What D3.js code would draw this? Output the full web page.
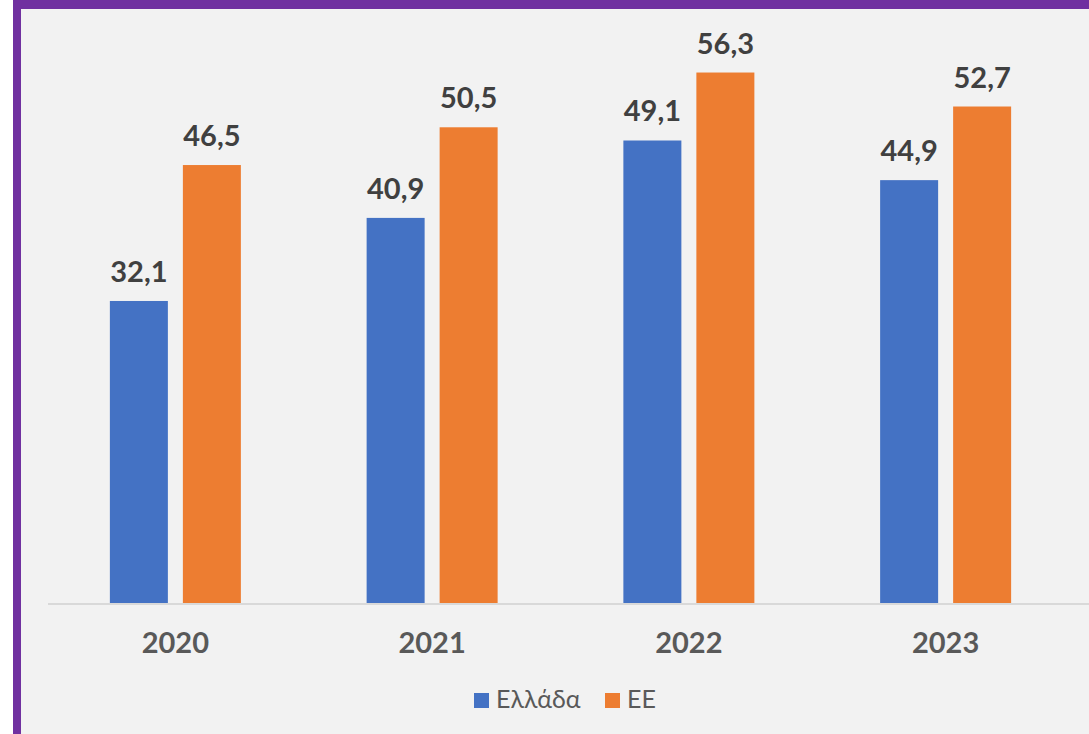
<!DOCTYPE html>
<html>
<head>
<meta charset="utf-8">
<script src="https://cdn.jsdelivr.net/npm/d3@7"></script>
<style>
  body { margin: 0; background: #fff; }
  svg { display: block; }
</style>
</head>
<body>
<div class="chart"></div>
<script>
// chart data
var years = ["2020", "2021", "2022", "2023"];
var seriesNames = ["Ελλάδα", "ΕΕ"];
var greece = [32.1, 40.9, 49.1, 44.9];
var eu = [46.5, 50.5, 56.3, 52.7];
var colors = ["#4472c4", "#ed7d31"];

var svgWidth = 1089;
var svgHeight = 734;

var svg = d3.select(".chart")
  .append("svg")
  .attr("width", svgWidth)
  .attr("height", svgHeight);

// frame: grey panel with purple border on top and left
svg.append("rect")
  .attr("x", 13).attr("y", 0)
  .attr("width", svgWidth - 13).attr("height", svgHeight)
  .attr("fill", "#7030a0");
svg.append("rect")
  .attr("x", 21).attr("y", 9)
  .attr("width", svgWidth - 21).attr("height", svgHeight - 9)
  .attr("fill", "#f2f2f2");

var plotLeft = 47, plotRight = 1074, baseY = 604;

var x0 = d3.scaleBand()
  .domain(years)
  .range([plotLeft, plotRight]);

// two bars of 58px with a 15px gap, centred in each band
var x1 = d3.scaleBand()
  .domain(seriesNames)
  .range([x0.bandwidth() / 2 - 65.5, x0.bandwidth() / 2 + 65.5])
  .paddingInner(15 / 73)
  .paddingOuter(0);

var y = d3.scaleLinear()
  .domain([0, 60])
  .range([baseY, baseY - 60 * 9.44]);

var rows = years.map(function(yr, i) {
  return { year: yr, values: [
    { name: seriesNames[0], value: greece[i], color: colors[0] },
    { name: seriesNames[1], value: eu[i], color: colors[1] }
  ]};
});

var groups = svg.selectAll(".grp")
  .data(rows)
  .enter().append("g")
  .attr("class", "grp")
  .attr("transform", function(d) { return "translate(" + x0(d.year) + ",0)"; });

groups.selectAll("rect")
  .data(function(d) { return d.values; })
  .enter().append("rect")
  .attr("x", function(d) { return x1(d.name); })
  .attr("y", function(d) { return y(d.value); })
  .attr("width", x1.bandwidth())
  .attr("height", function(d) { return baseY - y(d.value); })
  .attr("fill", function(d) { return d.color; });

groups.selectAll("text.val")
  .data(function(d) { return d.values; })
  .enter().append("text")
  .attr("class", "val")
  .attr("x", function(d) { return x1(d.name) + x1.bandwidth() / 2; })
  .attr("y", function(d) { return y(d.value) - 19; })
  .attr("text-anchor", "middle")
  .attr("font-family", "Lato, sans-serif")
  .attr("font-weight", "bold")
  .attr("font-size", 29)
  .attr("fill", "#404040")
  .text(function(d) { return d3.format(".1f")(d.value).replace(".", ","); });

// x axis
var xAxis = d3.axisBottom(x0).tickSize(0).tickPadding(0);
var axisG = svg.append("g")
  .attr("transform", "translate(0," + baseY + ")")
  .call(xAxis);
axisG.select(".domain").remove();
axisG.append("line")
  .attr("x1", 48).attr("x2", svgWidth)
  .attr("y1", 0).attr("y2", 0)
  .attr("stroke", "#d9d9d9").attr("stroke-width", 2);
axisG.selectAll(".tick text")
  .attr("dy", 0)
  .attr("y", 49)
  .attr("font-family", "Lato, sans-serif")
  .attr("font-weight", "bold")
  .attr("font-size", 29)
  .attr("fill", "#595959");

// legend
var legendX = [474, 605];
var legend = svg.selectAll(".leg")
  .data(seriesNames)
  .enter().append("g")
  .attr("class", "leg")
  .attr("transform", function(d, i) { return "translate(" + legendX[i] + ",693)"; });
legend.append("rect")
  .attr("width", 15).attr("height", 15)
  .attr("fill", function(d, i) { return colors[i]; });
legend.append("text")
  .attr("x", 22).attr("y", 15)
  .attr("font-family", "Lato, sans-serif")
  .attr("font-size", 25)
  .attr("fill", "#595959")
  .text(function(d) { return d; });
</script>
</body>
</html>
